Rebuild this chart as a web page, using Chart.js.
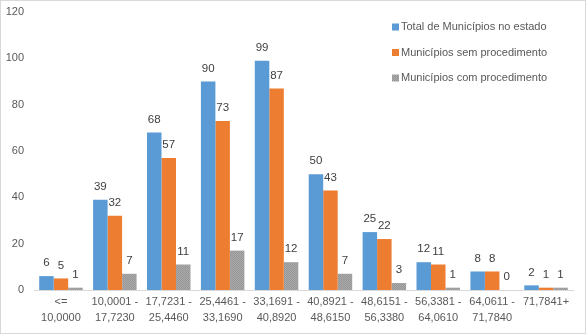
<!DOCTYPE html>
<html>
<head>
<meta charset="utf-8">
<script src="https://cdn.jsdelivr.net/npm/chart.js@4/dist/chart.umd.min.js"></script>
<style>
  html, body { margin: 0; padding: 0; background: #fff; }
  #wrap { position: relative; width: 584px; height: 332px; border: 1px solid #d9d9d9; }
</style>
</head>
<body>
<div id="wrap"><canvas id="myChart"></canvas></div>
<script>
// faixas (categorias)
const categorias = [
  ['<=', '10,0000'],
  ['10,0001 -', '17,7230'],
  ['17,7231 -', '25,4460'],
  ['25,4461 -', '33,1690'],
  ['33,1691 -', '40,8920'],
  ['40,8921 -', '48,6150'],
  ['48,6151 -', '56,3380'],
  ['56,3381 -', '64,0610'],
  ['64,0611 -', '71,7840'],
  ['71,7841+']
];

// séries
const totalEstado = [6, 39, 68, 90, 99, 50, 25, 12, 8, 2];
const semProcedimento = [5, 32, 57, 73, 87, 43, 22, 11, 8, 1];
const comProcedimento = [1, 7, 11, 17, 12, 7, 3, 1, 0, 1];

const yTicks = [0, 20, 40, 60, 80, 100, 120];

// textura cinza do terceiro grupo
function padraoCinza() {
  const c = document.createElement('canvas');
  c.width = 2; c.height = 2;
  const g = c.getContext('2d');
  g.fillStyle = '#ababab'; g.fillRect(0, 0, 2, 2);
  g.fillStyle = '#959595'; g.fillRect(0, 0, 1, 1); g.fillRect(1, 1, 1, 1);
  return g.createPattern(c, 'repeat');
}

// rótulos de valor acima das barras
const rotulos = {
  id: 'rotulos',
  afterDatasetsDraw(chart) {
    const ctx = chart.ctx;
    ctx.save();
    ctx.font = '11.5px "Liberation Sans", sans-serif';
    ctx.fillStyle = '#404040';
    ctx.textAlign = 'center';
    ctx.textBaseline = 'middle';
    chart.data.datasets.forEach((ds, i) => {
      chart.getDatasetMeta(i).data.forEach((bar, j) => {
        ctx.fillText(ds.data[j], bar.x, bar.y - 13);
      });
    });
    ctx.restore();
  }
};

// legenda dentro da área do gráfico
const legenda = {
  id: 'legenda',
  afterDraw(chart) {
    const ctx = chart.ctx;
    ctx.save();
    ctx.font = '11px "Liberation Sans", sans-serif';
    ctx.textBaseline = 'middle';
    chart.data.datasets.forEach((ds, i) => {
      const y = 26 + i * 25.5;
      ctx.fillStyle = ds.backgroundColor;
      ctx.fillRect(391, y - 3.5, 7, 7);
      ctx.fillStyle = '#595959';
      ctx.fillText(ds.label, 400, y);
    });
    ctx.restore();
  }
};

const data = {
  labels: categorias,
  datasets: [
    { label: 'Total de Municípios no estado', data: totalEstado, backgroundColor: '#5b9bd5' },
    { label: 'Municípios sem procedimento', data: semProcedimento, backgroundColor: '#ed7d31' },
    { label: 'Municípios com procedimento', data: comProcedimento, backgroundColor: padraoCinza() }
  ]
};

const config = {
  type: 'bar',
  data: data,
  options: {
    responsive: true,
    maintainAspectRatio: false,
    animation: false,
    layout: { padding: { top: 11, right: 12, left: 0, bottom: 0 } },
    datasets: { bar: { categoryPercentage: 0.807, barPercentage: 1 } },
    plugins: { legend: { display: false }, tooltip: { enabled: false } },
    scales: {
      x: {
        grid: { display: false, drawTicks: false },
        border: { color: '#d9d9d9' },
        afterFit: (axis) => { axis.height = 43; },
        ticks: {
          color: '#595959',
          font: { family: '"Liberation Sans", sans-serif', size: 11, lineHeight: 1.45 },
          padding: 4,
          maxRotation: 0,
          autoSkip: false
        }
      },
      y: {
        min: 0,
        max: 120,
        afterBuildTicks: (axis) => { axis.ticks = yTicks.map(v => ({ value: v })); },
        afterFit: (axis) => { axis.width = 33; axis.paddingTop = 0; axis.paddingBottom = 0; },
        grid: { display: false, drawTicks: false },
        border: { display: false },
        ticks: {
          color: '#595959',
          font: { family: '"Liberation Sans", sans-serif', size: 11 },
          padding: 10
        }
      }
    }
  },
  plugins: [rotulos, legenda]
};

const myChart = new Chart(document.getElementById('myChart'), config);
</script>
</body>
</html>
